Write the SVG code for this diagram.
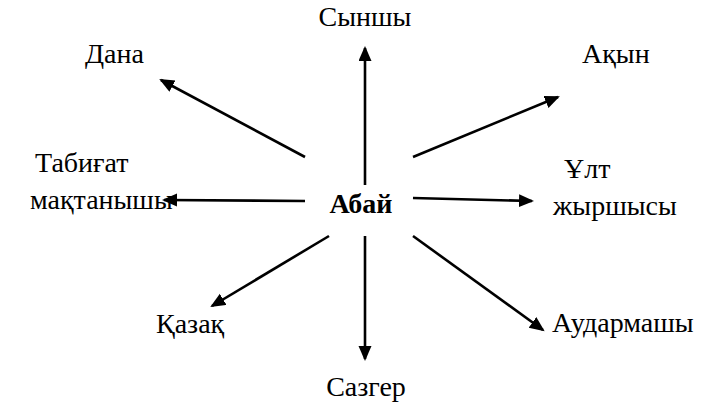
<svg xmlns="http://www.w3.org/2000/svg" width="712" height="407" viewBox="0 0 712 407">
<style>
text{font-family:"Liberation Serif","Times New Roman",serif;font-size:28px;fill:#000}
.b{font-weight:bold}
.c line{stroke:#000;stroke-width:2.6;marker-end:url(#ah)}
</style>
<defs>
<marker id="ah" markerUnits="userSpaceOnUse" markerWidth="16" markerHeight="14" refX="13" refY="6.5" orient="auto">
<path d="M0,0 L15,6.5 L0,13 z" fill="#000"/>
</marker>
</defs>
<rect width="712" height="407" fill="#fff"/>
<g class="c" id="connectors">
<line x1="305" y1="157" x2="161" y2="80"/>
<line x1="365" y1="185" x2="365" y2="48"/>
<line x1="413" y1="157" x2="558" y2="97"/>
<line x1="305" y1="201" x2="164" y2="200"/>
<line x1="413" y1="198" x2="532" y2="201"/>
<line x1="329" y1="236" x2="212" y2="306"/>
<line x1="365" y1="236" x2="365" y2="359"/>
<line x1="413" y1="236" x2="543" y2="330"/>
</g>
<g id="center"><text class="b" x="361" y="213" text-anchor="middle">Абай</text></g>
<g id="n-synshy"><text x="365" y="26" text-anchor="middle">Сыншы</text></g>
<g id="n-dana"><text x="85" y="63">Дана</text></g>
<g id="n-akyn"><text x="582" y="63">Ақын</text></g>
<g id="n-tabigat"><text x="35" y="172">Табиғат</text><text x="30" y="209">мақтанышы</text></g>
<g id="n-ult"><text x="564" y="178">Ұлт</text><text x="553" y="215">жыршысы</text></g>
<g id="n-kazak"><text x="156" y="333">Қазақ</text></g>
<g id="n-sazger"><text x="366" y="396" text-anchor="middle">Сазгер</text></g>
<g id="n-audarmashy"><text x="552" y="332">Аудармашы</text></g>
</svg>
